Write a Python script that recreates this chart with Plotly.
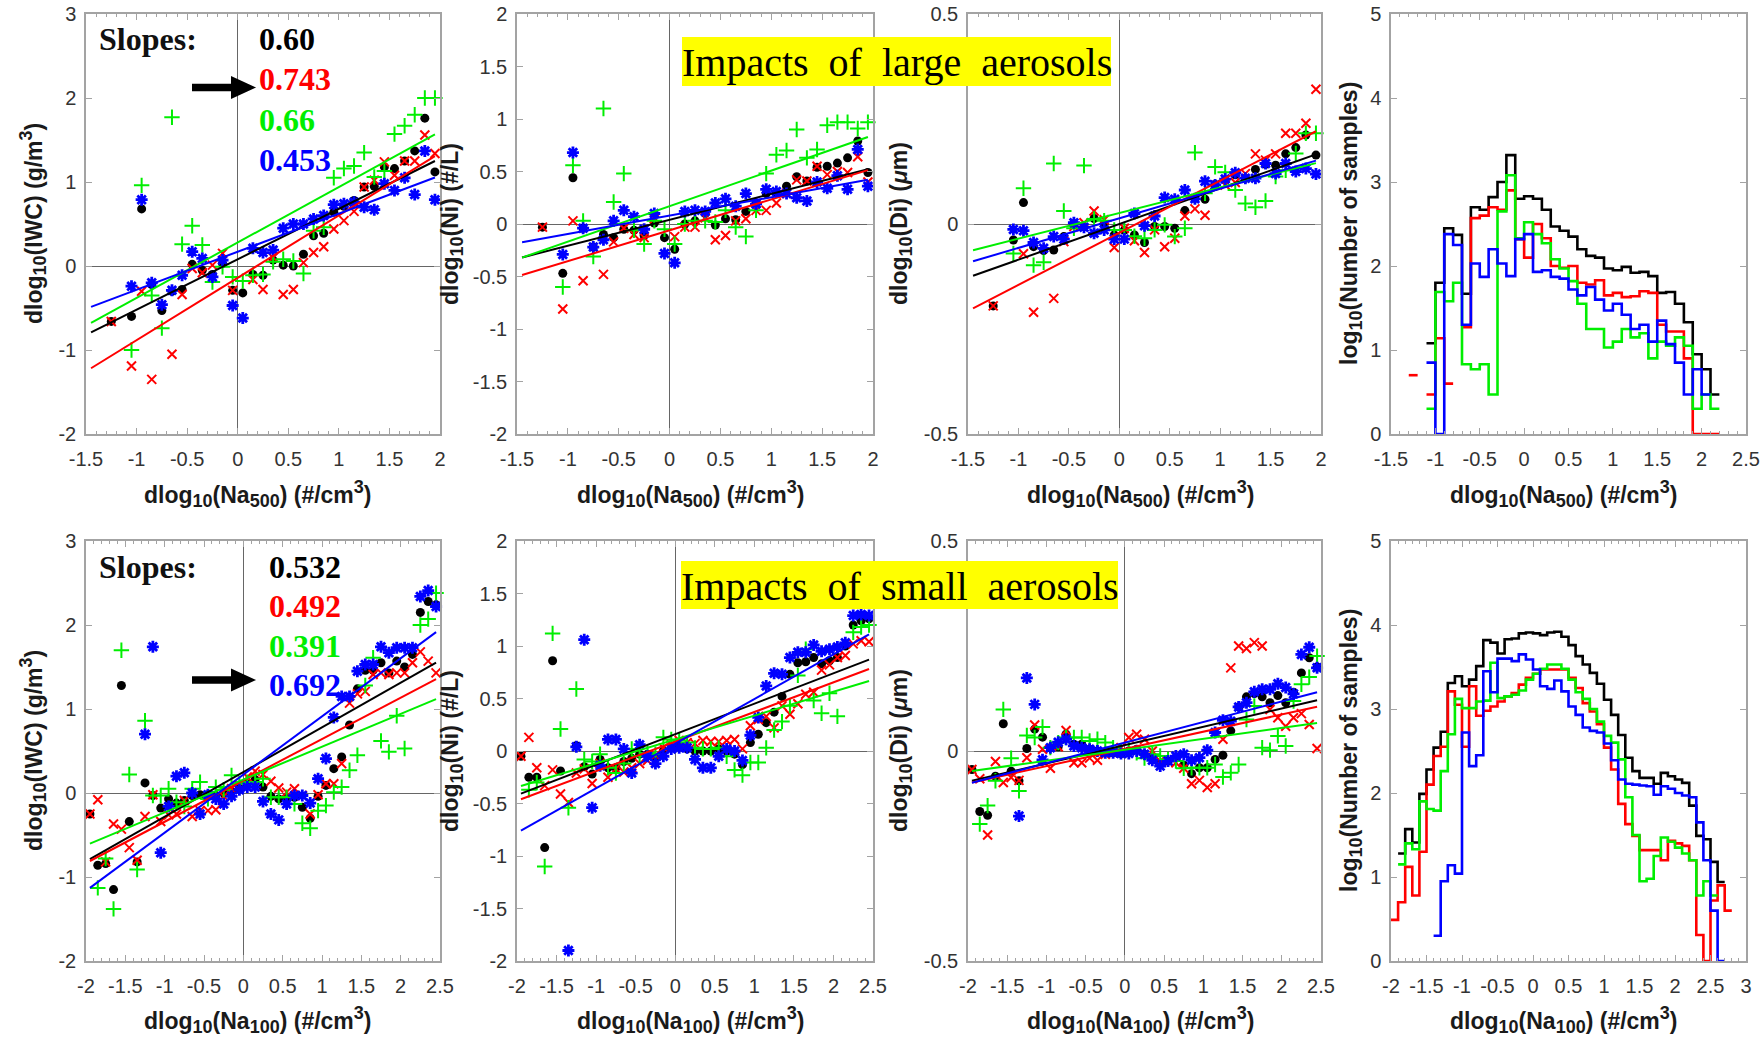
import plotly.graph_objects as go

# ---------------------------------------------------------------- data
# bin centres of the aerosol perturbation (Na500 top row, Na100 bottom row)
X_TOP = [-1.25, -1.15, -1.05, -0.95, -0.85, -0.75, -0.65, -0.55, -0.45, -0.35, -0.25,
         -0.15, -0.05, 0.05, 0.15, 0.25, 0.35, 0.45, 0.55, 0.65, 0.75, 0.85, 0.95,
         1.05, 1.15, 1.25, 1.35, 1.45, 1.55, 1.65, 1.75, 1.85, 1.95]
X_BOT = [-1.95, -1.85, -1.75, -1.65, -1.55, -1.45, -1.35, -1.25, -1.15, -1.05, -0.95,
         -0.85, -0.75, -0.65, -0.55, -0.45, -0.35, -0.25, -0.15, -0.05, 0.05, 0.15,
         0.25, 0.35, 0.45, 0.55, 0.65, 0.75, 0.85, 0.95, 1.05, 1.15, 1.25, 1.35, 1.45,
         1.55, 1.65, 1.75, 1.85, 1.95, 2.05, 2.15, 2.25, 2.35, 2.45]

# series order everywhere: all, red group, green group, blue group
IWC_TOP_K = [-0.66, None, -0.60, 0.68, -0.22, -0.53, -0.30, -0.28, 0.02, -0.05, -0.10, 0.03, -0.29,
             -0.32, -0.10, -0.11, 0.07, 0.01, 0.0, 0.14, 0.36, 0.39, 0.64, 0.71, 0.78, 0.94, 0.95,
             1.18, 1.16, 1.25, 1.37, 1.76, 1.12]
IWC_TOP_R = [-0.66, None, -1.19, -0.30, -1.35, None, -1.05, -0.34, -0.03, -0.08, 0.01, 0.15, -0.29,
             None, -0.16, -0.28, 0.10, -0.34, -0.28, 0.04, 0.16, 0.23, 0.44, 0.54, 0.65, 0.94, 1.02,
             1.24, 1.08, 1.25, 1.25, 1.56, 1.34]
IWC_TOP_G = [None, None, -1.0, 0.96, -0.35, -0.74, 1.77, 0.26, 0.48, 0.25, -0.19, -0.01, -0.13,
             -0.18, -0.11, -0.10, 0.05, 0.08, 0.06, -0.09, 0.42, 0.46, 1.05, 1.16, 1.19, 1.35, 1.06,
             1.13, 1.57, 1.67, 1.80, 2.0, 2.0]
IWC_TOP_B = [None, None, -0.24, 0.79, -0.20, -0.46, -0.29, -0.11, 0.17, 0.09, -0.13, 0.07, -0.47,
             -0.62, 0.21, 0.16, 0.19, 0.45, 0.50, 0.50, 0.56, 0.60, 0.73, 0.74, 0.76, 0.70, 0.67,
             0.98, 0.90, 1.05, 0.85, 1.37, 0.79]

NI_TOP_K = [-0.03, None, -0.47, 0.44, -0.04, -0.22, -0.10, -0.13, -0.05, -0.06, -0.11, 0.01, -0.13,
            -0.24, 0.0, 0.03, 0.10, -0.01, 0.05, 0.04, 0.12, 0.20, 0.29, 0.30, 0.36, 0.45, 0.41,
            0.54, 0.55, 0.58, 0.63, 0.79, 0.49]
NI_TOP_R = [-0.03, None, -0.81, 0.03, -0.54, None, -0.48, -0.17, -0.04, -0.10, -0.13, 0.05, None,
            -0.12, -0.03, -0.03, 0.06, -0.15, -0.11, 0.03, 0.05, 0.13, 0.13, 0.20, 0.29, 0.42, 0.41,
            0.55, 0.47, 0.50, 0.49, 0.64, 0.40]
NI_TOP_G = [None, None, -0.60, 0.56, 0.03, -0.31, 1.10, 0.21, 0.48, -0.06, -0.19, 0.03, -0.05,
            -0.19, 0.0, 0.03, 0.03, 0.02, 0.13, -0.03, -0.12, 0.13, 0.48, 0.66, 0.70, 0.90, 0.63,
            0.71, 0.94, 0.97, 0.97, 0.91, 0.97]
NI_TOP_B = [None, None, -0.29, 0.68, -0.04, -0.22, -0.15, 0.03, 0.13, 0.07, -0.05, 0.10, -0.28,
            -0.37, 0.12, 0.13, 0.12, 0.20, 0.24, 0.17, 0.29, 0.19, 0.33, 0.31, 0.29, 0.25, 0.22,
            0.40, 0.34, 0.46, 0.33, 0.71, 0.36]

DI_TOP_K = [-0.195, None, -0.038, 0.051, -0.054, -0.063, -0.062, -0.03, 0.0, -0.006, 0.013, 0.0,
            -0.026, -0.015, -0.026, -0.044, -0.006, -0.006, -0.01, 0.032, 0.061, 0.059, 0.094,
            0.105, 0.117, 0.109, 0.13, 0.142, 0.14, 0.167, 0.182, 0.212, 0.164]
DI_TOP_R = [-0.195, None, None, -0.071, -0.21, None, -0.177, -0.042, -0.006, 0.003, 0.031, 0.01,
            -0.056, -0.01, -0.04, -0.068, -0.014, -0.054, -0.034, 0.019, 0.036, 0.021, 0.093,
            0.093, 0.099, 0.12, 0.167, 0.152, 0.167, 0.216, 0.216, 0.24, 0.321]
DI_TOP_G = [None, None, -0.07, 0.085, -0.098, -0.091, 0.144, 0.031, -0.01, 0.139, 0.012, 0.008,
            -0.014, -0.014, -0.029, -0.034, -0.014, -0.002, -0.03, -0.01, 0.17, 0.073, 0.136,
            0.123, 0.081, 0.049, 0.04, 0.055, 0.113, 0.128, 0.168, 0.216, 0.216]
DI_TOP_B = [None, None, -0.013, -0.016, -0.044, -0.058, -0.03, -0.036, 0.003, -0.008, -0.022,
            -0.014, -0.036, -0.036, 0.025, -0.004, 0.019, 0.063, 0.059, 0.081, 0.06, 0.102, 0.093,
            0.107, 0.122, 0.109, 0.109, 0.144, 0.12, 0.144, 0.125, 0.132, 0.119]

IWC_BOT_K = [-0.25, -0.86, -0.84, -1.15, 1.28, -0.34, -0.82, 0.12, -0.03, -0.18, -0.07, -0.12,
             -0.09, -0.03, -0.02, -0.02, -0.03, 0.0, 0.02, 0.05, 0.11, 0.16, 0.07, -0.04, -0.07,
             -0.05, -0.05, -0.17, -0.30, -0.04, 0.09, 0.29, 0.43, 0.81, 1.24, 1.46, 1.46, 1.55,
             1.43, 1.57, 1.50, 1.65, 2.15, 2.28, 2.24]
IWC_BOT_R = [-0.25, -0.08, -0.82, -0.37, -0.43, -0.65, -0.80, -0.28, -0.02, -0.34, -0.26, -0.25,
             -0.09, -0.28, -0.21, -0.21, -0.20, -0.04, 0.05, 0.09, 0.19, 0.26, 0.22, 0.14, 0.06,
             0.01, 0.05, -0.03, -0.25, -0.02, 0.11, 0.11, 0.35, 1.07, 1.18, 1.21, 1.41, 1.43, 1.41,
             1.43, 1.43, 1.55, 1.68, 1.57, 1.43]
IWC_BOT_G = [None, -1.13, -0.78, -1.38, 1.70, 0.22, -0.91, 0.86, -0.03, -0.03, 0.05, -0.11, -0.16,
             0.05, 0.13, -0.07, 0.07, 0.04, 0.21, 0.11, 0.13, 0.13, 0.17, -0.05, -0.05, -0.05,
             -0.13, -0.36, -0.42, -0.21, -0.15, 0.01, 0.07, 0.27, 0.45, 1.28, 1.61, 0.62, 0.49,
             0.92, 0.53, None, 2.0, 2.07, 2.38]
IWC_BOT_B = [None, None, None, None, None, None, None, 0.70, 1.74, -0.71, -0.16, 0.20, 0.24, 0.0,
             -0.25, -0.02, -0.07, -0.13, -0.04, 0.04, 0.07, 0.07, -0.10, -0.25, -0.32, -0.13,
             -0.03, -0.03, -0.12, 0.17, 0.41, 0.90, 1.15, 1.15, 1.45, 1.53, 1.53, 1.74, 1.67, 1.73,
             1.73, 1.73, 2.34, 2.41, 2.22]

NI_BOT_K = [-0.05, -0.25, -0.25, -0.92, 0.86, -0.19, None, 0.05, -0.15, -0.22, -0.08, -0.16, -0.16,
            -0.10, -0.07, -0.03, -0.03, -0.06, 0.0, 0.03, 0.04, 0.02, 0.0, 0.0, 0.0, 0.02, 0.0,
            -0.03, -0.13, 0.08, 0.16, 0.27, 0.37, 0.52, 0.73, 0.84, 0.85, 0.89, 0.83, 0.86, 0.89,
            1.0, 1.20, 1.24, 1.26]
NI_BOT_R = [-0.05, 0.13, -0.16, -0.33, -0.18, -0.41, -0.49, -0.21, -0.17, -0.31, -0.12, -0.25,
            -0.17, -0.20, -0.16, -0.12, -0.09, -0.04, 0.03, 0.06, 0.10, 0.08, 0.07, 0.10, 0.09,
            0.09, 0.10, 0.11, 0.02, 0.24, 0.30, 0.33, 0.22, 0.43, 0.35, 0.45, 0.54, 0.56, 0.77,
            0.82, 0.89, 0.91, 1.02, 1.05, 1.04]
NI_BOT_G = [None, -0.37, -0.30, -1.10, 1.12, 0.21, -0.54, 0.59, -0.08, -0.10, -0.03, -0.16, -0.21,
            -0.12, 0.02, -0.05, -0.02, -0.03, 0.13, 0.11, 0.10, 0.08, 0.03, 0.02, 0.02, 0.03,
            -0.05, -0.18, -0.23, -0.11, -0.11, 0.03, 0.20, 0.28, 0.43, 0.72, 0.97, 0.48, 0.36,
            0.55, 0.33, None, 1.13, 1.18, 1.20]
NI_BOT_B = [None, None, None, None, None, None, -1.90, 0.04, 1.06, -0.54, -0.14, 0.11, 0.11, 0.02,
            -0.21, 0.06, -0.05, -0.12, -0.05, 0.02, 0.03, 0.03, -0.08, -0.16, -0.16, -0.05, 0.02,
            0.0, -0.09, 0.15, 0.32, 0.62, 0.74, 0.73, 0.89, 0.94, 0.94, 1.01, 0.95, 0.97, 0.99,
            1.03, 1.29, 1.30, 1.29]

DI_BOT_K = [-0.044, -0.144, -0.153, -0.06, 0.065, -0.048, -0.071, 0.006, 0.052, 0.033, 0.008,
            0.01, 0.04, 0.016, 0.016, 0.004, 0.0, -0.004, -0.004, -0.006, 0.0, 0.004, -0.008,
            -0.015, -0.03, -0.024, -0.016, -0.034, -0.054, -0.04, -0.04, -0.02, -0.01, 0.048,
            0.105, 0.129, 0.137, 0.129, 0.115, 0.132, 0.115, 0.14, 0.186, 0.222, 0.20]
DI_BOT_R = [-0.044, -0.066, -0.20, -0.025, -0.075, -0.063, -0.07, -0.016, 0.062, 0.004, -0.041,
            0.01, 0.049, -0.028, -0.028, -0.017, -0.022, -0.008, -0.004, 0.008, 0.032, 0.04, 0.028,
            0.0, -0.024, -0.024, -0.028, -0.041, -0.078, -0.07, -0.087, -0.078, 0.028, 0.198,
            0.25, 0.244, 0.258, 0.25, 0.099, 0.079, 0.059, 0.079, 0.089, 0.063, 0.006]
DI_BOT_G = [None, -0.174, -0.13, -0.071, 0.099, -0.017, -0.095, 0.037, 0.032, 0.057, 0.008, 0.02,
            0.032, 0.032, 0.032, 0.024, 0.028, 0.02, 0.008, 0.0, 0.004, -0.004, -0.017, -0.008,
            -0.012, -0.02, -0.024, -0.041, -0.04, -0.04, -0.04, -0.032, -0.062, -0.052, -0.032,
            0.075, 0.107, 0.008, 0.002, 0.036, 0.012, 0.119, 0.159, 0.176, 0.226]
DI_BOT_B = [None, None, None, None, None, None, -0.155, 0.174, 0.111, -0.021, 0.008, 0.021, 0.028,
            0.012, 0.008, 0.004, 0.0, -0.004, -0.004, -0.006, -0.006, 0.0, -0.008, -0.022, -0.036,
            -0.024, -0.012, -0.008, -0.022, -0.016, 0.002, 0.044, 0.073, 0.071, 0.105, 0.115,
            0.141, 0.147, 0.147, 0.160, 0.151, 0.136, 0.23, 0.247, 0.198]

# linear fits (slope, intercept) for each group; labelled slopes kept as printed
SLOPE_LABELS_TOP = ["0.60", "0.743", "0.66", "0.453"]
SLOPE_LABELS_BOT = ["0.532", "0.492", "0.391", "0.692"]
FIT_IWC_TOP = ([float(s) for s in SLOPE_LABELS_TOP], [0.08, -0.14, 0.28, 0.17])
FIT_NI_TOP = ([0.247, 0.294, 0.338, 0.175], [0.04, -0.06, 0.17, 0.08])
FIT_DI_TOP = ([0.085, 0.124, 0.061, 0.0705], [0.0, -0.021, 0.026, 0.0135])
FIT_IWC_BOT = ([float(s) for s in SLOPE_LABELS_BOT], [0.25, 0.15, 0.16, 0.22])
FIT_NI_BOT = ([0.29, 0.282, 0.227, 0.425], [0.16, 0.09, 0.11, 0.07])
FIT_DI_BOT = ([0.0436, 0.041, 0.026, 0.049], [0.014, 0.005, 0.003, 0.020])
FIT_XSPAN_TOP = [-1.45, 1.95]
FIT_XSPAN_BOT = [-1.95, 2.45]

# sample-count histograms, log10(N) per 0.1-wide bin (left edges)
HIST_EDGES_TOP = [-1.3, -1.2, -1.1, -1.0, -0.9, -0.8, -0.7, -0.6, -0.5, -0.4, -0.3, -0.2, -0.1,
                  0.0, 0.1, 0.2, 0.3, 0.4, 0.5, 0.6, 0.7, 0.8, 0.9, 1.0, 1.1, 1.2, 1.3, 1.4, 1.5,
                  1.6, 1.7, 1.8, 1.9, 2.0, 2.1]
HIST_TOP_K = [None, None, 1.08, 1.80, 2.45, 2.37, 1.67, 2.70, 2.67, 2.82, 3.00, 3.32, 2.80, 2.83,
              2.80, 2.67, 2.47, 2.42, 2.35, 2.20, 2.12, 2.10, 1.97, 1.95, 1.99, 1.92, 1.93, 1.88,
              1.68, 1.69, 1.55, 1.33, 0.95, 0.77, 0.47]
HIST_TOP_R = [0.70, None, 0.47, 1.14, 0.60, None, 1.27, 2.57, 2.60, 2.70, 2.67, 2.90, 2.32, 2.10,
              2.50, 2.33, 2.00, 1.98, 2.00, 1.80, 1.78, 1.83, 1.65, 1.68, 1.63, 1.64, 1.70, 1.68,
              1.30, 1.22, 1.22, 0.90, 0.0, 0.0, 0.0]
HIST_TOP_G = [None, None, 0.30, 1.69, 1.58, 1.80, 0.83, 0.77, 0.83, 0.47, 2.65, 3.08, 2.33, 2.52,
              2.38, 2.27, 2.08, 1.97, 1.82, 1.55, 1.25, 1.25, 1.03, 1.10, 1.25, 1.15, 1.20, 0.90,
              1.10, 1.05, 1.15, 1.05, 0.30, 0.47, 0.30]
HIST_TOP_B = [None, None, 0.85, 0.0, 2.38, 2.25, 1.30, 2.03, 1.87, 2.20, 2.03, 1.88, 2.32, 2.38,
              1.93, 1.95, 1.87, 1.85, 1.72, 1.65, 1.75, 1.60, 1.47, 1.55, 1.42, 1.25, 1.30, 1.10,
              1.35, 1.07, 0.85, 0.47, 0.77, 0.47, None]

HIST_EDGES_BOT = [-2.0, -1.9, -1.8, -1.7, -1.6, -1.5, -1.4, -1.3, -1.2, -1.1, -1.0, -0.9, -0.8,
                  -0.7, -0.6, -0.5, -0.4, -0.3, -0.2, -0.1, 0.0, 0.1, 0.2, 0.3, 0.4, 0.5, 0.6, 0.7,
                  0.8, 0.9, 1.0, 1.1, 1.2, 1.3, 1.4, 1.5, 1.6, 1.7, 1.8, 1.9, 2.0, 2.1, 2.2, 2.3,
                  2.4, 2.5, 2.6, 2.7]
HIST_BOT_K = [None, 1.28, 1.57, 1.41, 1.99, 2.28, 2.54, 2.73, 3.31, 3.39, 3.27, 3.35, 3.51, 3.82,
              3.79, 3.66, 3.83, 3.84, 3.90, 3.91, 3.90, 3.88, 3.91, 3.92, 3.86, 3.76, 3.63, 3.53,
              3.43, 3.30, 3.11, 2.93, 2.69, 2.42, 2.26, 2.18, 2.18, 2.11, 2.24, 2.20, 2.16, 2.12,
              1.85, 1.49, 1.45, 1.18, 0.94, None]
HIST_BOT_R = [0.49, 0.70, 1.12, 0.78, 1.30, 2.10, 2.44, 2.55, 3.21, 3.05, 2.55, 3.27, 2.92, 2.98,
              3.03, 3.09, 3.15, 3.19, 3.29, 3.37, 3.42, 3.47, 3.47, 3.47, 3.47, 3.37, 3.25, 3.07,
              2.97, 2.82, 2.54, 2.28, 1.87, 1.63, 1.49, 1.32, 1.32, 1.32, 1.20, 1.43, 1.40, 1.37,
              1.20, 0.31, 0.0, 0.72, 0.90, 0.60]
HIST_BOT_G = [None, 1.15, 1.40, 1.33, 1.90, 1.81, 1.79, 2.26, 2.70, 3.12, 3.01, 3.01, 3.09, 3.10,
              3.55, 3.13, 3.15, 3.17, 3.22, 3.35, 3.42, 3.48, 3.53, 3.53, 3.48, 3.35, 3.20, 3.12,
              3.00, 2.85, 2.68, 2.60, 2.40, 1.95, 1.50, 0.95, 0.98, 1.25, 1.47, 1.42, 1.35, 1.28,
              1.20, 0.78, 0.95, 0.78, None, None]
HIST_BOT_B = [None, None, None, None, None, None, 0.30, 0.95, 1.14, 1.04, 2.72, 2.32, 2.45, 3.45,
              3.20, 3.60, 3.60, 3.57, 3.65, 3.59, 3.47, 3.27, 3.24, 3.34, 3.21, 3.03, 2.93, 2.78,
              2.74, 2.72, 2.59, 2.39, 2.16, 2.11, 2.10, 2.09, 2.08, 1.98, 2.08, 2.05, 2.00, 1.97,
              1.95, 1.65, 1.20, 0.60, 0.0, None]

# tick values
XT_TOP = [-1.5, -1, -0.5, 0, 0.5, 1, 1.5, 2]
XT_TOP_HIST = [-1.5, -1, -0.5, 0, 0.5, 1, 1.5, 2, 2.5]
XT_BOT = [-2, -1.5, -1, -0.5, 0, 0.5, 1, 1.5, 2, 2.5]
XT_BOT_HIST = [-2, -1.5, -1, -0.5, 0, 0.5, 1, 1.5, 2, 2.5, 3]
YT_IWC = [-2, -1, 0, 1, 2, 3]
YT_NI = [-2, -1.5, -1, -0.5, 0, 0.5, 1, 1.5, 2]
YT_DI = [-0.5, 0, 0.5]
YT_HIST = [0, 1, 2, 3, 4, 5]

# ---------------------------------------------------------------- style
W, H = 1762, 1040
COLORS = ["#000000", "#ff0000", "#00ee00", "#0000ff"]
BOX = "#a3a3a3"
ZERO = "#666666"
TICKFONT = dict(family="Liberation Sans, Arial, sans-serif", size=20, color="#333333")
TITLEFONT = dict(family="Liberation Sans, Arial, sans-serif", size=23, color="#1a1a1a",
                 weight="bold")
SUBSIZE = 18
SERIF = "Liberation Serif, Times New Roman, serif"

COLS = [(86, 440), (517, 873), (968, 1321), (1391, 1746)]
ROWS = [(14, 434), (541, 961)]


def px(x):
    return x / W


def py(y):
    return 1 - y / H


def marker(i):
    if i == 0:
        return dict(symbol="circle", size=9, color=COLORS[0])
    if i == 1:
        return dict(symbol="x-thin-open", size=9, color=COLORS[1],
                    line=dict(color=COLORS[1], width=2))
    if i == 2:
        return dict(symbol="cross-thin-open", size=11, color=COLORS[2],
                    line=dict(color=COLORS[2], width=2))
    return dict(symbol="asterisk-open", size=10, color=COLORS[3],
                line=dict(color=COLORS[3], width=2.8))


def steps(edges, vals):
    w = round(edges[1] - edges[0], 6)
    xs, ys = [], []
    for e, v in zip(edges, vals):
        if v is None:
            if xs and xs[-1] is not None:
                xs.append(None)
                ys.append(None)
            continue
        xs += [e, round(e + w, 6)]
        ys += [v, v]
    return xs, ys


fig = go.Figure()

scatter_panels = [
    (1, X_TOP, [IWC_TOP_K, IWC_TOP_R, IWC_TOP_G, IWC_TOP_B], FIT_IWC_TOP, FIT_XSPAN_TOP),
    (2, X_TOP, [NI_TOP_K, NI_TOP_R, NI_TOP_G, NI_TOP_B], FIT_NI_TOP, FIT_XSPAN_TOP),
    (3, X_TOP, [DI_TOP_K, DI_TOP_R, DI_TOP_G, DI_TOP_B], FIT_DI_TOP, FIT_XSPAN_TOP),
    (5, X_BOT, [IWC_BOT_K, IWC_BOT_R, IWC_BOT_G, IWC_BOT_B], FIT_IWC_BOT, FIT_XSPAN_BOT),
    (6, X_BOT, [NI_BOT_K, NI_BOT_R, NI_BOT_G, NI_BOT_B], FIT_NI_BOT, FIT_XSPAN_BOT),
    (7, X_BOT, [DI_BOT_K, DI_BOT_R, DI_BOT_G, DI_BOT_B], FIT_DI_BOT, FIT_XSPAN_BOT),
]

for n, xs, series, (slopes, icpts), span in scatter_panels:
    xa, ya = f"x{n}", f"y{n}"
    for i, ys in enumerate(series):
        fig.add_trace(go.Scatter(x=xs, y=ys, mode="markers", marker=marker(i),
                                 xaxis=xa, yaxis=ya, showlegend=False, cliponaxis=False))
    for i, (s, b) in enumerate(zip(slopes, icpts)):
        fig.add_trace(go.Scatter(x=span, y=[s * x + b for x in span], mode="lines",
                                 line=dict(color=COLORS[i], width=2),
                                 xaxis=xa, yaxis=ya, showlegend=False))

hist_panels = [
    (4, HIST_EDGES_TOP, [HIST_TOP_K, HIST_TOP_R, HIST_TOP_G, HIST_TOP_B]),
    (8, HIST_EDGES_BOT, [HIST_BOT_K, HIST_BOT_R, HIST_BOT_G, HIST_BOT_B]),
]
for n, edges, series in hist_panels:
    for i, vals in enumerate(series):
        sx, sy = steps(edges, vals)
        fig.add_trace(go.Scatter(x=sx, y=sy, mode="lines",
                                 line=dict(color=COLORS[i], width=2.6),
                                 xaxis=f"x{n}", yaxis=f"y{n}", showlegend=False))


def fmt(v):
    return f"{v:g}"


def xaxis_cfg(n, col, rng, ticks, zero):
    c0, c1 = COLS[col]
    return dict(domain=[px(c0), px(c1)], range=rng, anchor=f"y{n}", automargin=False,
                tickvals=ticks, ticktext=[fmt(t) for t in ticks],
                showline=True, mirror="ticks", linecolor=BOX, linewidth=1.5,
                ticks="inside", ticklen=6, tickwidth=1, tickcolor=BOX,
                minor=dict(ticks="inside", dtick=0.1, tick0=0, ticklen=3,
                           tickcolor=BOX, tickwidth=1, showgrid=False),
                showgrid=False, zeroline=zero, zerolinecolor=ZERO, zerolinewidth=1.3,
                tickfont=TICKFONT, ticklabelstandoff=6, fixedrange=True)


def yaxis_cfg(n, row, rng, ticks, zero):
    r0, r1 = ROWS[row]
    return dict(domain=[py(r1), py(r0)], range=rng, anchor=f"x{n}", automargin=False,
                tickvals=ticks, ticktext=[fmt(t) for t in ticks],
                showline=True, mirror="ticks", linecolor=BOX, linewidth=1.5,
                ticks="inside", ticklen=6, tickwidth=1, tickcolor=BOX,
                showgrid=False, zeroline=zero, zerolinecolor=ZERO, zerolinewidth=1.3,
                tickfont=TICKFONT, ticklabelstandoff=4, fixedrange=True)


layout = dict(width=W, height=H, autosize=False,
              margin=dict(l=0, r=0, t=0, b=0, pad=0, autoexpand=False),
              paper_bgcolor="white", plot_bgcolor="white", showlegend=False)

axis_specs = [
    (1, 0, 0, [-1.5, 2], XT_TOP, [-2, 3], YT_IWC, True),
    (2, 1, 0, [-1.5, 2], XT_TOP, [-2, 2], YT_NI, True),
    (3, 2, 0, [-1.5, 2], XT_TOP, [-0.5, 0.5], YT_DI, True),
    (4, 3, 0, [-1.5, 2.5], XT_TOP_HIST, [0, 5], YT_HIST, False),
    (5, 0, 1, [-2, 2.5], XT_BOT, [-2, 3], YT_IWC, True),
    (6, 1, 1, [-2, 2.5], XT_BOT, [-2, 2], YT_NI, True),
    (7, 2, 1, [-2, 2.5], XT_BOT, [-0.5, 0.5], YT_DI, True),
    (8, 3, 1, [-2, 3], XT_BOT_HIST, [0, 5], YT_HIST, False),
]
for n, col, row, xr, xt, yr, yt, zero in axis_specs:
    key = "" if n == 1 else str(n)
    layout[f"xaxis{key}"] = xaxis_cfg(n, col, xr, xt, zero)
    layout[f"yaxis{key}"] = yaxis_cfg(n, row, yr, yt, zero)

fig.update_layout(**layout)


# ---------------------------------------------------------------- labels
def sub(t):
    return f"<sub><span style='font-size:{SUBSIZE}px'>{t}</span></sub>"


def sup(t):
    return f"<sup><span style='font-size:{SUBSIZE}px'>{t}</span></sup>"


ann = []
XT = [f"dlog{sub('10')}(Na{sub('500')}) (#/cm{sup('3')})",
      f"dlog{sub('10')}(Na{sub('100')}) (#/cm{sup('3')})"]
YTL = [f"dlog{sub('10')}(IWC) (g/m{sup('3')})", f"dlog{sub('10')}(Ni) (#/L)",
       f"dlog{sub('10')}(Di) (<i>μ</i>m)", f"log{sub('10')}(Number of samples)"]
XT_LEFT = [142, 575, 1025, 1448]
YT_X = [33, 452, 901, 1351]
XT_Y = [494, 1020]
for row in range(2):
    r0, r1 = ROWS[row]
    for col in range(4):
        ann.append(dict(x=px(XT_LEFT[col]), y=py(XT_Y[row]), xref="paper", yref="paper",
                        text=XT[row], showarrow=False, font=TITLEFONT,
                        xanchor="left", yanchor="middle"))
        ann.append(dict(x=px(YT_X[col]), y=py((r0 + r1) / 2), xref="paper", yref="paper",
                        text=YTL[col], showarrow=False, font=TITLEFONT,
                        textangle=-90, xanchor="center", yanchor="middle"))

# slope listings
slope_blocks = [(39, 257, SLOPE_LABELS_TOP, [39, 79, 120, 160]),
                (567, 267, SLOPE_LABELS_BOT, [567, 606, 646, 685])]
for y0, xv, labels, ys in slope_blocks:
    ann.append(dict(x=px(97), y=py(y0), xref="paper", yref="paper", text="Slopes:",
                    showarrow=False, xanchor="left", yanchor="middle",
                    font=dict(family=SERIF, size=32, color="#111111", weight="bold")))
    for lab, yy, c in zip(labels, ys, COLORS):
        ann.append(dict(x=px(xv), y=py(yy), xref="paper", yref="paper", text=lab,
                        showarrow=False, xanchor="left", yanchor="middle",
                        font=dict(family=SERIF, size=32, color=c, weight="bold")))

# highlighted headings
shapes = []
heads = [((682, 1111, 37, 86), "Impacts\u00a0 of\u00a0 large\u00a0 aerosols"),
         ((681, 1118, 561, 609), "Impacts\u00a0 of\u00a0 small\u00a0 aerosols")]
for (x0, x1, y0, y1), txt in heads:
    shapes.append(dict(type="rect", xref="paper", yref="paper", x0=px(x0), x1=px(x1),
                       y0=py(y1), y1=py(y0), fillcolor="#ffff00", line=dict(width=0),
                       layer="above"))
    ann.append(dict(x=px((x0 + x1) / 2), y=py((y0 + y1) / 2 + 1), xref="paper", yref="paper",
                    text=txt, showarrow=False, xanchor="center", yanchor="middle",
                    font=dict(family=SERIF, size=40, color="#000000")))

# arrows pointing at the highlighted slope
for yc in (87.5, 680):
    pts = [(192, yc - 3.8), (231, yc - 3.8), (231, yc - 11.5), (256, yc),
           (231, yc + 11.5), (231, yc + 3.8), (192, yc + 3.8)]
    path = "M " + " L ".join(f"{px(a):.5f},{py(b):.5f}" for a, b in pts) + " Z"
    shapes.append(dict(type="path", xref="paper", yref="paper", path=path,
                       fillcolor="#000000", line=dict(width=0), layer="above"))

fig.update_layout(annotations=ann, shapes=shapes)
fig.write_html("out.html",
               post_script="document.body.style.margin='0';document.body.style.padding='0';")
